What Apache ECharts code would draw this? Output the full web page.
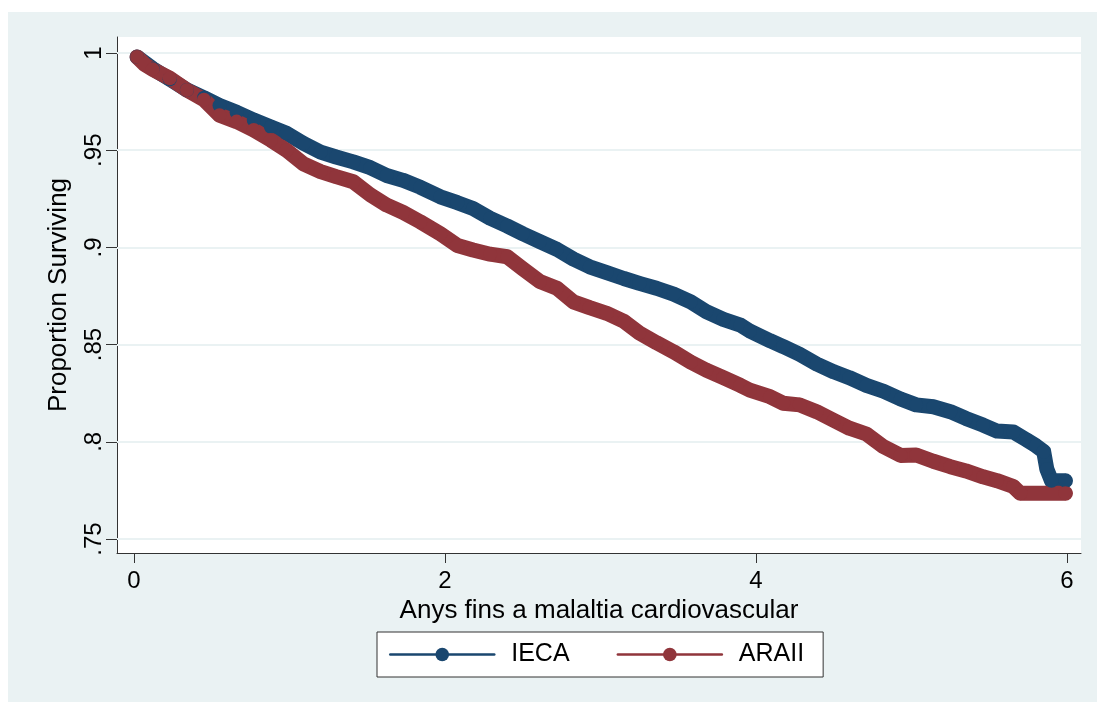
<!DOCTYPE html>
<html>
<head>
<meta charset="utf-8">
<script src="https://cdn.jsdelivr.net/npm/echarts@6/dist/echarts.min.js"></script>
<style>html,body{margin:0;padding:0;background:#fff;}#c{width:1097px;height:702px;}</style>
</head>
<body>
<div id="c"></div>
<script>
// ---- data ----
const seriesNames = ['IECA', 'ARAII'];
const xTicks = [0, 2, 4, 6];
const yTicks = [0.75, 0.8, 0.85, 0.9, 0.95, 1];

const iecaT = [0.02,0.12,0.23,0.34,0.45,0.55,0.66,0.77,0.88,0.98,1.09,1.20,1.30,1.41,1.52,1.625,1.73,1.84,1.97,2.08,2.18,2.29,2.40,2.50,2.61,2.72,2.825,2.93,3.04,3.15,3.25,3.36,3.47,3.58,3.68,3.79,3.90,3.96,4.09,4.175,4.28,4.39,4.50,4.60,4.71,4.82,4.93,5.03,5.14,5.25,5.35,5.46,5.55,5.655,5.74,5.80,5.85,5.87,5.90,5.99];
const iecaS = [0.998,0.992,0.9865,0.981,0.977,0.973,0.9695,0.9655,0.962,0.9587,0.9535,0.949,0.9465,0.944,0.941,0.937,0.9345,0.931,0.926,0.923,0.920,0.915,0.911,0.907,0.903,0.899,0.894,0.890,0.887,0.884,0.8815,0.879,0.876,0.872,0.867,0.863,0.860,0.857,0.852,0.849,0.845,0.840,0.836,0.833,0.829,0.826,0.822,0.819,0.818,0.8155,0.812,0.8086,0.8055,0.805,0.801,0.798,0.795,0.786,0.780,0.780];

const araiiT = [0.02,0.07,0.12,0.23,0.34,0.45,0.55,0.66,0.77,0.88,0.98,1.09,1.20,1.30,1.41,1.52,1.625,1.73,1.84,1.97,2.08,2.18,2.29,2.40,2.50,2.61,2.72,2.825,2.93,3.04,3.15,3.25,3.36,3.47,3.58,3.68,3.79,3.90,3.96,4.09,4.175,4.28,4.39,4.50,4.60,4.71,4.82,4.93,5.03,5.14,5.25,5.35,5.46,5.55,5.655,5.70,5.99];
const araiiS = [0.998,0.994,0.9916,0.987,0.981,0.976,0.968,0.9647,0.9604,0.9552,0.950,0.943,0.939,0.9364,0.9338,0.927,0.9218,0.918,0.9132,0.907,0.901,0.8987,0.8965,0.8952,0.889,0.8824,0.879,0.872,0.869,0.8661,0.862,0.856,0.851,0.8463,0.841,0.8369,0.833,0.829,0.8266,0.8232,0.8198,0.819,0.8155,0.811,0.807,0.804,0.7975,0.793,0.7932,0.790,0.7872,0.785,0.782,0.780,0.777,0.7735,0.7735];

const colors = ['#1a476f', '#90353b'];
const FONT = '"Liberation Sans", Arial, Helvetica, sans-serif';

function pairs(t, s) { return t.map((v, i) => [v, s[i]]); }
function fmtY(v) {
  const r = Math.round(v * 100) / 100;
  return r === 1 ? '1' : String(r).replace(/^0/, '');
}

const chart = echarts.init(document.getElementById('c'), null, {renderer: 'canvas'});
const curveStyle = (c) => ({
  type: 'line', symbol: 'circle', symbolSize: 14, showSymbol: true, showAllSymbol: true, z: 3,
  itemStyle: {color: c, borderWidth: 0},
  lineStyle: {color: c, width: 15, cap: 'round', join: 'round'},
  emphasis: {disabled: true}, silent: true
});

chart.setOption({
  animation: false,
  backgroundColor: '#eaf2f3',
  textStyle: {fontFamily: FONT},
  graphic: [
    {type: 'rect', shape: {x: 0, y: 0, width: 1097, height: 12}, style: {fill: '#ffffff'}, z: 100, silent: true},
    {type: 'rect', shape: {x: 0, y: 0, width: 8, height: 702}, style: {fill: '#ffffff'}, z: 100, silent: true}
  ],
  grid: {left: 117, top: 37, width: 964, height: 516, show: true, backgroundColor: '#ffffff', borderWidth: 0, containLabel: false},
  legend: {
    data: seriesNames, left: 377, top: 632, orient: 'horizontal',
    backgroundColor: '#ffffff', borderColor: '#333333', borderWidth: 1,
    padding: [10, 19, 10, 12], itemGap: 47, itemWidth: 104, itemHeight: 17,
    lineStyle: {width: 2.5},
    textStyle: {fontFamily: FONT, fontSize: 25, color: '#000', lineHeight: 25, padding: [0, 0, 0, 12]},
    selectedMode: false
  },
  xAxis: {
    type: 'value', min: -0.1093, max: 6.09,
    name: 'Anys fins a malaltia cardiovascular', nameLocation: 'middle', nameGap: 37,
    nameTextStyle: {fontFamily: FONT, fontSize: 26, color: '#000'},
    axisLine: {show: true, onZero: false, lineStyle: {color: '#333333', width: 1}},
    axisTick: {show: true, length: 10, customValues: xTicks, lineStyle: {color: '#333333', width: 1}},
    axisLabel: {customValues: xTicks, margin: 16, fontFamily: FONT, fontSize: 24, color: '#000'},
    splitLine: {show: false}
  },
  yAxis: {
    type: 'value', min: 0.7428, max: 1.00823,
    name: 'Proportion Surviving', nameLocation: 'middle', nameGap: 45, nameRotate: 90,
    nameTextStyle: {fontFamily: FONT, fontSize: 26, color: '#000'},
    axisLine: {show: true, onZero: false, lineStyle: {color: '#333333', width: 1}},
    axisTick: {show: true, length: 11, customValues: yTicks, lineStyle: {color: '#333333', width: 1}},
    axisLabel: {customValues: yTicks, rotate: 90, margin: 11, fontFamily: FONT, fontSize: 24, color: '#000', formatter: fmtY},
    splitLine: {show: false}
  },
  series: [
    {
      type: 'line', name: 'grid', data: [], silent: true, z: 1,
      markLine: {
        z: 1, silent: true, symbol: ['none', 'none'], label: {show: false},
        lineStyle: {color: '#eaf2f3', width: 2, type: 'solid'},
        emphasis: {disabled: true},
        data: yTicks.map(v => ({yAxis: v}))
      }
    },
    Object.assign(curveStyle(colors[0]), {name: seriesNames[0], data: pairs(iecaT, iecaS)}),
    Object.assign(curveStyle(colors[1]), {name: seriesNames[1], data: pairs(araiiT, araiiS)})
  ]
});
</script>
</body>
</html>
